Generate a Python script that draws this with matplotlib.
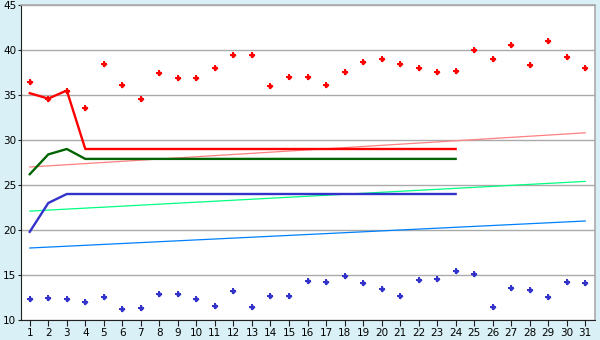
import matplotlib
matplotlib.use("Agg")
import matplotlib.pyplot as plt

days = list(range(1, 32))

# upper scatter (red) and lower scatter (blue)
red_points = [36.5, 34.6, 35.5, 33.6, 38.4, 36.1, 34.6, 37.4, 36.9, 36.9,
              38.0, 39.5, 39.4, 36.0, 37.0, 37.0, 36.1, 37.6, 38.7, 39.0,
              38.5, 38.0, 37.6, 37.7, 40.0, 39.0, 40.6, 38.3, 41.0, 39.2, 38.0]
blue_points = [12.3, 12.5, 12.3, 12.0, 12.6, 11.2, 11.3, 12.9, 12.9, 12.3,
               11.6, 13.2, 11.5, 12.7, 12.7, 14.3, 14.2, 14.9, 14.1, 13.4,
               12.7, 14.4, 14.6, 15.5, 15.1, 11.4, 13.6, 13.3, 12.6, 14.2, 14.1]

# running lines (days 1..24)
line_days = list(range(1, 25))
red_line = [35.2, 34.6, 35.5] + [29.0] * 21
green_line = [26.2, 28.4, 29.0] + [27.9] * 21
blue_line = [19.8, 23.0, 24.0] + [24.0] * 21

# trend lines: value at day 1 and day 31
trend_days = [1, 31]
pink_trend = [27.0, 30.8]
mint_trend = [22.1, 25.4]
sky_trend = [18.0, 21.0]

fig = plt.figure(figsize=(6, 3.4), dpi=100)
fig.patch.set_facecolor("#d9f0f7")
ax = fig.add_axes([20.5 / 600, 20 / 340, 574 / 600, 315 / 340])
ax.set_facecolor("white")

ax.plot(trend_days, pink_trend, color="#ff8080", lw=0.9)
ax.plot(trend_days, mint_trend, color="#00ff80", lw=0.9)
ax.plot(trend_days, sky_trend, color="#0080ff", lw=0.9)

ax.plot(line_days, red_line, color="#ff0000", lw=1.7)
ax.plot(line_days, green_line, color="#006400", lw=1.7)
ax.plot(line_days, blue_line, color="#3333cc", lw=1.7)

# small plus-diamond markers
for vals, col in [(red_points, "#ff0000"), (blue_points, "#3333cc")]:
    ax.plot(days, vals, ls="none", marker="P", ms=5, color=col, mew=0)
    ax.plot(days, vals, ls="none", marker="D", ms=3, color=col, mew=0)

ax.set_xlim(0.5, 31.5)
ax.set_ylim(10, 45)
ax.set_xticks(days)
ax.set_yticks(range(10, 46, 5))
ax.yaxis.grid(True, color="#aaaaaa", lw=1)
ax.set_axisbelow(True)
ax.tick_params(axis="x", labelsize=7.5, length=4, color="#222222", pad=1.5)
ax.tick_params(axis="y", labelsize=7.5, length=2, color="#222222", pad=1)

for side in ["top", "right"]:
    ax.spines[side].set_color("#aaaaaa")
    ax.spines[side].set_linewidth(1.2)
for side in ["left", "bottom"]:
    ax.spines[side].set_color("#222222")
    ax.spines[side].set_linewidth(0.8)

fig.savefig("out.png", dpi=100, facecolor=fig.get_facecolor())
